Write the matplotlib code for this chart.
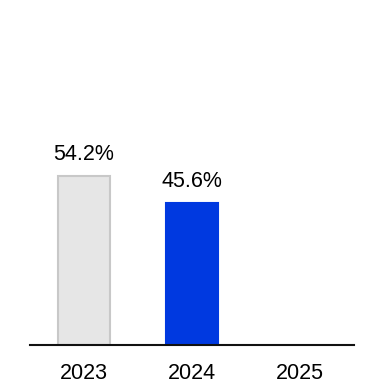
import matplotlib
matplotlib.use("Agg")
import matplotlib.pyplot as plt

years = ["2023", "2024", "2025"]
values = [54.2, 45.6, None]
labels = ["54.2%", "45.6%", ""]

fill_colors = ["#e6e6e6", "#0039e0", "none"]
edge_colors = ["#c8c8c8", "#0039e0", "none"]

plt.rcParams["font.family"] = ["Liberation Sans", "DejaVu Sans"]

fig = plt.figure(figsize=(3.84, 3.84), dpi=100)
ax = fig.add_axes([0.078, 0.1016, 0.844, 0.8125])

x = list(range(len(years)))
for i, v in enumerate(values):
    if v is None:
        continue
    ax.bar(x[i], v, width=0.48, color=fill_colors[i], edgecolor=edge_colors[i],
           linewidth=1.5)
    ax.annotate(labels[i], (x[i], v), xytext=(0, 8), textcoords="offset points",
                ha="center", va="bottom", fontsize=15.5, color="#000000")

ax.set_xlim(-0.5, 2.5)
ax.set_ylim(0, 100)
ax.set_xticks(x)
ax.set_xticklabels(years, fontsize=15.5, color="#000000")
ax.tick_params(axis="x", length=0, pad=13)
ax.set_yticks([])
for side in ["top", "right", "left"]:
    ax.spines[side].set_visible(False)
ax.spines["bottom"].set_linewidth(1.5)
ax.spines["bottom"].set_color("#111111")

fig.savefig("out.png", dpi=100, facecolor="white")
